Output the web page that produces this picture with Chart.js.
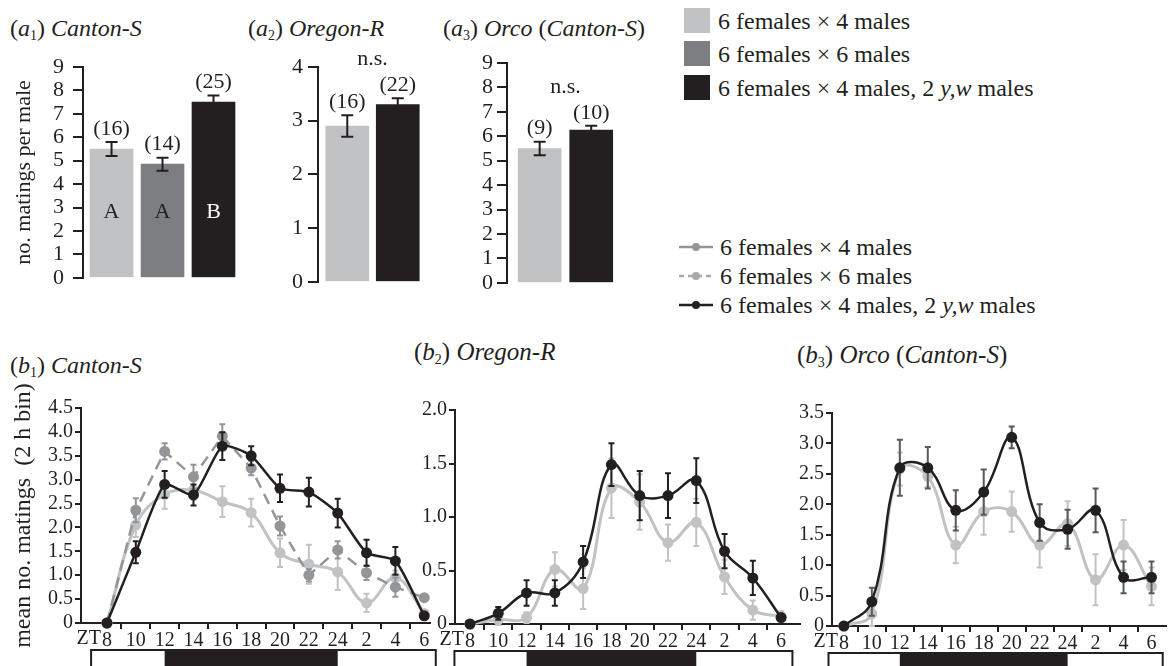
<!DOCTYPE html>
<html>
<head>
<meta charset="utf-8">
<script src="https://cdn.jsdelivr.net/npm/chart.js@4.4.1/dist/chart.umd.min.js"></script>
<style>
body { margin: 0; width: 1171px; height: 666px; position: relative; overflow: hidden; background: #fff; color: #231f20; font-family: 'Liberation Serif', 'Times New Roman', 'DejaVu Serif', 'Noto Serif', serif; }
canvas { position: absolute; }
.t { position: absolute; white-space: nowrap; font-size: 24px; line-height: 26px; }
.t sub { font-size: 14px; vertical-align: -4px; line-height: 0; }
.key { position: absolute; white-space: nowrap; font-size: 24px; line-height: 26px; }
.sw { position: absolute; width: 26px; height: 25px; }
</style>
</head>
<body>

<div class="t" style="left:10px;top:15px">(<i>a</i><sub>1</sub>) <i>Canton-S</i></div>
<div class="t" style="left:248px;top:15px">(<i>a</i><sub>2</sub>) <i>Oregon-R</i></div>
<div class="t" style="left:443px;top:15px">(<i>a</i><sub>3</sub>) <i>Orco</i> (<i>Canton-S</i>)</div>
<div class="t" style="left:10px;top:352px">(<i>b</i><sub>1</sub>) <i>Canton-S</i></div>
<div class="t" style="left:414px;top:339px;font-size:25px">(<i>b</i><sub>2</sub>) <i>Oregon-R</i></div>
<div class="t" style="left:797px;top:342px;font-size:25px">(<i>b</i><sub>3</sub>) <i>Orco</i> (<i>Canton-S</i>)</div>

<div class="sw" style="left:684px;top:8px;background:#c1c2c4"></div>
<div class="key" style="left:718px;top:8px">6 females × 4 males</div>
<div class="sw" style="left:684px;top:41px;background:#7d7e82"></div>
<div class="key" style="left:718px;top:41px">6 females × 6 males</div>
<div class="sw" style="left:684px;top:75px;background:#231f20"></div>
<div class="key" style="left:718px;top:75px">6 females × 4 males, 2 <i>y,w</i> males</div>

<svg style="position:absolute;left:679px;top:241px" width="34" height="12"><line x1="0" y1="6" x2="34" y2="6" stroke="#939598" stroke-width="2.5"/><circle cx="17" cy="6" r="4" fill="#939598"/></svg>
<div class="key" style="left:720px;top:234px">6 females × 4 males</div>
<svg style="position:absolute;left:679px;top:270px" width="34" height="12"><line x1="0" y1="6" x2="34" y2="6" stroke="#a7a9ac" stroke-width="2.5" stroke-dasharray="5,4"/><circle cx="17" cy="6" r="4" fill="#a7a9ac"/></svg>
<div class="key" style="left:720px;top:263px">6 females × 6 males</div>
<svg style="position:absolute;left:679px;top:299px" width="34" height="12"><line x1="0" y1="6" x2="34" y2="6" stroke="#231f20" stroke-width="2.5"/><circle cx="17" cy="6" r="4" fill="#231f20"/></svg>
<div class="key" style="left:720px;top:292px">6 females × 4 males, 2 <i>y,w</i> males</div>

<canvas id="a1" width="245" height="260" style="left:0;top:40px"></canvas>
<canvas id="a2" width="195" height="260" style="left:245px;top:40px"></canvas>
<canvas id="a3" width="200" height="260" style="left:440px;top:40px"></canvas>
<canvas id="b1" width="445" height="296" style="left:0;top:370px"></canvas>
<canvas id="b2" width="405" height="271" style="left:400px;top:395px"></canvas>
<canvas id="b3" width="391" height="271" style="left:780px;top:395px"></canvas>

<script>
var ink = '#231f20';
var lightGrey = '#c1c2c4';
var midGrey = '#7d7e82';
var dashGrey = '#939598';
var Serif = '"Liberation Serif", "Times New Roman", "DejaVu Serif", "Noto Serif", serif';
Chart.defaults.font.family = Serif;
Chart.defaults.color = ink;

// (a) total matings per male
var a1Means = [5.5, 4.85, 7.5];
var a1Err = [0.3, 0.28, 0.28];
var a1N = ['(16)', '(14)', '(25)'];
var a1Letters = ['A', 'A', 'B'];
var a2Means = [2.9, 3.3];
var a2Err = [0.2, 0.12];
var a2N = ['(16)', '(22)'];
var a3Means = [5.5, 6.25];
var a3Err = [0.28, 0.18];
var a3N = ['(9)', '(10)'];

// (b) matings per 2 h bin, ZT hours (26 = ZT 2 next day)
var ztHours = [8, 10, 12, 14, 16, 18, 20, 22, 24, 26, 28, 30];
var ztLabels = ['8', '10', '12', '14', '16', '18', '20', '22', '24', '2', '4', '6'];
var darkPhase = [12, 24];
var lightBar = [6.9, 30.8];

var b1Four = [0, 2.05, 2.69, 2.78, 2.54, 2.31, 1.47, 1.23, 1.07, 0.42, 0.95, 0.2];
var b1FourErr = [0, 0.25, 0.3, 0.2, 0.32, 0.29, 0.3, 0.41, 0.38, 0.19, 0.15, 0.05];
var b1Six = [0, 2.36, 3.59, 3.06, 3.91, 3.24, 2.03, 1.0, 1.53, 1.05, 0.75, 0.53];
var b1SixErr = [0, 0.25, 0.17, 0.25, 0.25, 0.15, 0.2, 0.13, 0.18, 0.15, 0.2, 0];
var b1Yw = [0, 1.48, 2.9, 2.68, 3.7, 3.5, 2.82, 2.74, 2.3, 1.47, 1.3, 0.15];
var b1YwErr = [0, 0.23, 0.28, 0.22, 0.29, 0.2, 0.29, 0.3, 0.3, 0.27, 0.29, 0];

var b2Four = [0, 0.04, 0.06, 0.51, 0.33, 1.27, 1.14, 0.76, 0.95, 0.44, 0.13, 0.07];
var b2FourErr = [0, 0.05, 0.05, 0.16, 0.19, 0.28, 0.26, 0.17, 0.22, 0.16, 0.09, 0.05];
var b2Yw = [0, 0.1, 0.29, 0.29, 0.58, 1.49, 1.2, 1.2, 1.34, 0.68, 0.43, 0.06];
var b2YwErr = [0, 0.06, 0.12, 0.12, 0.15, 0.2, 0.23, 0.21, 0.21, 0.16, 0.16, 0];

var b3Four = [0, 0.2, 2.58, 2.46, 1.33, 1.88, 1.88, 1.33, 1.68, 0.76, 1.33, 0.65];
var b3FourErr = [0, 0.2, 0.27, 0.17, 0.3, 0.38, 0.33, 0.37, 0.37, 0.42, 0.41, 0.31];
var b3Yw = [0, 0.4, 2.6, 2.6, 1.9, 2.2, 3.1, 1.7, 1.59, 1.9, 0.8, 0.8];
var b3YwErr = [0, 0.23, 0.46, 0.34, 0.33, 0.37, 0.18, 0.3, 0.32, 0.36, 0.26, 0.26];

// error bars, n labels and letters for the bar panels
var barNotes = {
    id: 'barNotes',
    afterDatasetsDraw: function (chart) {
        var ctx = chart.ctx, y = chart.scales.y;
        var ds = chart.data.datasets[0];
        var meta = chart.getDatasetMeta(0);
        var top = Infinity;
        ctx.save();
        ctx.strokeStyle = ink;
        ctx.lineWidth = 2;
        ctx.textAlign = 'center';
        meta.data.forEach(function (bar, i) {
            var hi = y.getPixelForValue(ds.means[i] + ds.errors[i]);
            var lo = y.getPixelForValue(ds.means[i] - ds.errors[i]);
            ctx.beginPath();
            ctx.moveTo(bar.x, hi); ctx.lineTo(bar.x, lo);
            ctx.moveTo(bar.x - 6, hi); ctx.lineTo(bar.x + 6, hi);
            ctx.moveTo(bar.x - 6, lo); ctx.lineTo(bar.x + 6, lo);
            ctx.stroke();
            ctx.fillStyle = ink;
            ctx.font = '22px ' + Serif;
            ctx.textBaseline = 'bottom';
            ctx.fillText(ds.counts[i], bar.x, hi - 2);
            top = Math.min(top, hi);
            if (ds.letters) {
                ctx.fillStyle = i === 2 ? '#fff' : ink;
                ctx.textBaseline = 'middle';
                ctx.fillText(ds.letters[i], bar.x, y.getPixelForValue(2.8));
            }
        });
        if (ds.ns) {
            ctx.fillStyle = ink;
            ctx.font = '22px ' + Serif;
            ctx.textBaseline = 'middle';
            var mid = (meta.data[0].x + meta.data[1].x) / 2;
            ctx.fillText('n.s.', mid, top - 39);
        }
        ctx.restore();
    }
};

function barChart(id, means, errors, colours, counts, letters, ns, yMax, box) {
    return new Chart(document.getElementById(id), {
        type: 'bar',
        data: {
            datasets: [{
                data: means.map(function (v, i) { return { x: i, y: v }; }),
                means: means,
                errors: errors,
                counts: counts,
                letters: letters,
                ns: ns,
                backgroundColor: colours,
                barThickness: 43
            }]
        },
        options: {
            responsive: false,
            animation: false,
            layout: { padding: box.padding },
            plugins: { legend: { display: false }, tooltip: { enabled: false } },
            scales: {
                x: { type: 'linear', display: false, offset: false, grid: { offset: false }, min: box.xMin, max: box.xMax },
                y: {
                    min: 0,
                    max: yMax,
                    afterFit: function (s) { s.width = box.yWidth; },
                    ticks: { stepSize: 1, autoSkip: false, padding: box.tickPad, font: { size: 22 }, color: ink },
                    grid: { drawOnChartArea: false, tickLength: 10, lineWidth: 2, color: ink },
                    border: { color: ink, width: 2 },
                    title: {
                        display: !!box.title,
                        text: box.title,
                        font: { size: 22 },
                        color: ink,
                        padding: { top: 11, bottom: 0 }
                    }
                }
            }
        },
        plugins: [barNotes]
    });
}

barChart('a1', a1Means, a1Err, [lightGrey, midGrey, ink], a1N, a1Letters, false, 9,
    { padding: { left: 0, top: 27, right: 5, bottom: 10 }, yWidth: 83, xMin: -0.56, xMax: 2.52, tickPad: 9, title: 'no. matings per male' });
barChart('a2', a2Means, a2Err, [lightGrey, ink], a2N, null, true, 4,
    { padding: { left: 0, top: 27, right: 17, bottom: 11 }, yWidth: 73, xMin: -0.58, xMax: 1.5, tickPad: 5 });
barChart('a3', a3Means, a3Err, [lightGrey, ink], a3N, null, true, 9,
    { padding: { left: 0, top: 23, right: 23, bottom: 11 }, yWidth: 67, xMin: -0.634, xMax: 1.5, tickPad: 4 });

// error bars drawn just under each series
var lineErrors = {
    id: 'lineErrors',
    beforeDatasetDraw: function (chart, args) {
        var ds = chart.data.datasets[args.index];
        var ctx = chart.ctx, y = chart.scales.y;
        ctx.save();
        ctx.strokeStyle = ds.errColour;
        ctx.lineWidth = 2;
        ctx.beginPath();
        args.meta.data.forEach(function (pt, i) {
            var e = ds.errors[i];
            if (!e) return;
            var hi = y.getPixelForValue(ds.values[i] + e);
            var lo = y.getPixelForValue(ds.values[i] - e);
            ctx.moveTo(pt.x, hi); ctx.lineTo(pt.x, lo);
            ctx.moveTo(pt.x - 3, hi); ctx.lineTo(pt.x + 3, hi);
            ctx.moveTo(pt.x - 3, lo); ctx.lineTo(pt.x + 3, lo);
        });
        ctx.stroke();
        ctx.restore();
    }
};

// light/dark bar under the time axis, and the ZT prefix
var lightDark = {
    id: 'lightDark',
    afterDraw: function (chart) {
        var ctx = chart.ctx, x = chart.scales.x, y = chart.scales.y;
        var base = y.getPixelForValue(0);
        var top = base + 27;
        var left = x.getPixelForValue(lightBar[0]);
        var right = x.getPixelForValue(lightBar[1]);
        var d0 = x.getPixelForValue(darkPhase[0]);
        var d1 = x.getPixelForValue(darkPhase[1]);
        ctx.save();
        ctx.fillStyle = '#fff';
        ctx.fillRect(left, top, right - left, 24);
        ctx.fillStyle = ink;
        ctx.fillRect(d0, top, d1 - d0, 24);
        ctx.strokeStyle = ink;
        ctx.lineWidth = 2;
        ctx.strokeRect(left, top, right - left, 24);
        ctx.font = '20px ' + Serif;
        ctx.textAlign = 'right';
        ctx.textBaseline = 'top';
        ctx.fillText('ZT', x.getPixelForValue(ztHours[0]) - 6, base + 6);
        ctx.restore();
    }
};

function series(values, errors, colour, errColour, dash, tension, order, width) {
    return {
        data: ztHours.map(function (h, i) { return { x: h, y: values[i] }; }),
        values: values,
        errors: errors,
        errColour: errColour,
        borderColor: colour,
        backgroundColor: colour,
        borderWidth: width,
        borderDash: dash,
        tension: tension,
        pointRadius: 5.5,
        pointBorderWidth: 0,
        pointBackgroundColor: colour,
        fill: false,
        clip: false,
        order: order
    };
}

function lineChart(id, datasets, yMax, box) {
    return new Chart(document.getElementById(id), {
        type: 'line',
        data: { datasets: datasets },
        options: {
            responsive: false,
            animation: false,
            layout: { padding: box.padding },
            plugins: { legend: { display: false }, tooltip: { enabled: false } },
            scales: {
                x: {
                    type: 'linear',
                    bounds: 'data',
                    min: box.xMin,
                    max: box.xMax,
                    afterBuildTicks: function (s) {
                        var t = [];
                        for (var h = Math.ceil(s.min); h <= s.max; h++) t.push({ value: h });
                        s.ticks = t;
                    },
                    afterFit: function (s) { s.height = box.xHeight; },
                    ticks: {
                        autoSkip: false,
                        maxRotation: 0,
                        padding: 0,
                        font: { size: 20 },
                        color: ink,
                        callback: function (v) {
                            var i = ztHours.indexOf(v);
                            return i < 0 ? '' : ztLabels[i];
                        }
                    },
                    grid: {
                        drawOnChartArea: false,
                        tickLength: 6,
                        lineWidth: 2,
                        color: function (c) {
                            var v = c.tick ? c.tick.value : 0;
                            return (v % 2 && v > 8 && v < 30) ? ink : 'rgba(0,0,0,0)';
                        }
                    },
                    border: { color: ink, width: 2 }
                },
                y: {
                    min: 0,
                    max: yMax,
                    afterFit: function (s) { s.width = box.yWidth; },
                    ticks: {
                        stepSize: 0.5,
                        autoSkip: false,
                        padding: 2,
                        font: { size: 20 },
                        color: ink,
                        callback: function (v) { return v === 0 ? '0' : v.toFixed(1); }
                    },
                    grid: { drawOnChartArea: false, tickLength: 6, lineWidth: 2, color: ink },
                    border: { color: ink, width: 2 },
                    title: {
                        display: !!box.title,
                        text: box.title,
                        font: { size: 24 },
                        color: ink,
                        padding: { top: 9, bottom: 0 }
                    }
                }
            }
        },
        plugins: [lineErrors, lightDark]
    });
}

lineChart('b1', [
    series(b1Four, b1FourErr, lightGrey, lightGrey, [], 0.4, 2, 3),
    series(b1Six, b1SixErr, dashGrey, dashGrey, [11, 7], 0, 1, 2.5),
    series(b1Yw, b1YwErr, ink, ink, [], 0.2, 0, 2.5)
], 4.5, { padding: { left: 0, top: 38, right: 15, bottom: 0 }, yWidth: 81, xHeight: 43, xMin: 6.2, xMax: 30.4, title: 'mean no. matings  (2 h bin)' });

lineChart('b2', [
    series(b2Four, b2FourErr, lightGrey, lightGrey, [], 0.4, 1, 3),
    series(b2Yw, b2YwErr, ink, ink, [], 0.4, 0, 2.5)
], 2, { padding: { left: 0, top: 15, right: 5, bottom: 0 }, yWidth: 55, xHeight: 42, xMin: 6.94, xMax: 31.3 });

lineChart('b3', [
    series(b3Four, b3FourErr, lightGrey, lightGrey, [], 0.4, 1, 3),
    series(b3Yw, b3YwErr, ink, '#58595b', [], 0.4, 0, 2.5)
], 3.5, { padding: { left: 0, top: 18, right: 1, bottom: 0 }, yWidth: 52, xHeight: 40, xMin: 7.15, xMax: 31 });
</script>
</body>
</html>
